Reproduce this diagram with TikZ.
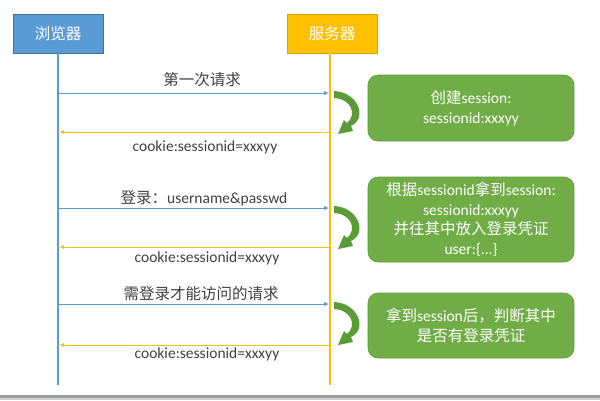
\documentclass[tikz,border=0pt]{standalone}
\usepackage{fontspec}
\setmainfont{Carlito}
\newfontfamily\cjk{Noto Sans CJK SC}
\usetikzlibrary{arrows.meta}
\definecolor{cblue}{HTML}{5B9BD5}
\definecolor{cblueD}{HTML}{41719C}
\definecolor{corange}{HTML}{FFC000}
\definecolor{corangeD}{HTML}{D9A300}
\definecolor{cgreen}{HTML}{70AD47}
\definecolor{cgreenD}{HTML}{5F9A3A}
\definecolor{carrow}{HTML}{5A9A37}
\definecolor{ctext}{HTML}{404040}
\begin{document}
\begin{tikzpicture}[x=1pt,y=-1pt,
  hdr/.style={draw, line width=0.8pt, minimum width=90pt, minimum height=39pt, inner sep=0pt, text=white, font=\fontsize{15.5}{19}\selectfont\cjk},
  gbox/.style={draw=cgreenD, line width=0.6pt, fill=cgreen, rounded corners=10pt, minimum width=206pt, inner sep=0pt, text=white, align=center, font=\fontsize{15.5}{19.5}\selectfont},
  lbl/.style={text=ctext, inner sep=0pt, font=\fontsize{15.5}{19}\selectfont},
  req/.style={draw=cblue, line width=0.9pt, -{Latex[length=5pt,width=4.5pt]}},
  rsp/.style={draw=corange, line width=0.9pt, -{Latex[length=5pt,width=4.5pt]}},
  turn/.pic={\fill[carrow] (4,-2) .. controls (28,-1) and (38,25) .. (21,33)
      -- (23,38) -- (8,41) -- (14,27) -- (17,30)
      .. controls (27,22) and (22,6) .. (4,5) -- cycle;}
]
\useasboundingbox (0,0) rectangle (600,400);
% bottom bar
\fill[gray!75] (0,395) rectangle (600,398);
\fill[gray!35] (0,398) rectangle (600,400);
% headers
\node[hdr, fill=cblue, draw=cblueD] (br) at (58,33.5) {浏览器};
\node[hdr, fill=corange, draw=corangeD] (sv) at (332,33.5) {服务器};
\coordinate (brEnd) at (58,385);
\coordinate (svEnd) at (330,385);
\draw[cblue, line width=2pt] (br.south -| brEnd) -- (brEnd);
\draw[corange, line width=2.5pt] (br.south -| svEnd) -- (svEnd);
% message endpoints
\foreach \i/\a/\b in {1/93/132, 2/208/247, 3/304/345}{
  \coordinate (b\i) at (59,\a);
  \coordinate (s\i) at (329,\a);
  \coordinate (sr\i) at (329,\b);
  \coordinate (br\i) at (59,\b);
}
\draw[req] (b1) -- (s1);
\draw[rsp] (sr1) -- (br1);
\draw[req] (b2) -- (s2);
\draw[rsp] (sr2) -- (br2);
\draw[req] (b3) -- (s3);
\draw[rsp] (sr3) -- (br3);
% labels
\node[lbl] (l1) at (202,80) {\cjk 第一次请求};
\node[lbl] (c1) at (205,147) {cookie:sessionid=xxxyy};
\node[lbl] (l2) at (204,198) {{\cjk 登录：}username\&passwd};
\node[lbl] (c2) at (207,258) {cookie:sessionid=xxxyy};
\node[lbl] (l3) at (201,294) {\cjk 需登录才能访问的请求};
\node[lbl] (c3) at (207,354) {cookie:sessionid=xxxyy};
% processing arrows
\pic at (330,93) {turn};
\pic at (330,208) {turn};
\pic at (330,304) {turn};
% green boxes
\node[gbox, minimum height=66pt] (g1) at (471,108) {{\cjk 创建}session:\\sessionid:xxxyy};
\node[gbox, minimum height=85pt] (g2) at (471,219.5) {{\cjk 根据}sessionid{\cjk 拿到}session:\\sessionid:xxxyy\\{\cjk 并往其中放入登录凭证}\\user:\{...\}};
\node[gbox, minimum height=65pt] (g3) at (471,325.5) {{\cjk 拿到}session{\cjk 后，判断其中}\\{\cjk 是否有登录凭证}};
\end{tikzpicture}
\end{document}
